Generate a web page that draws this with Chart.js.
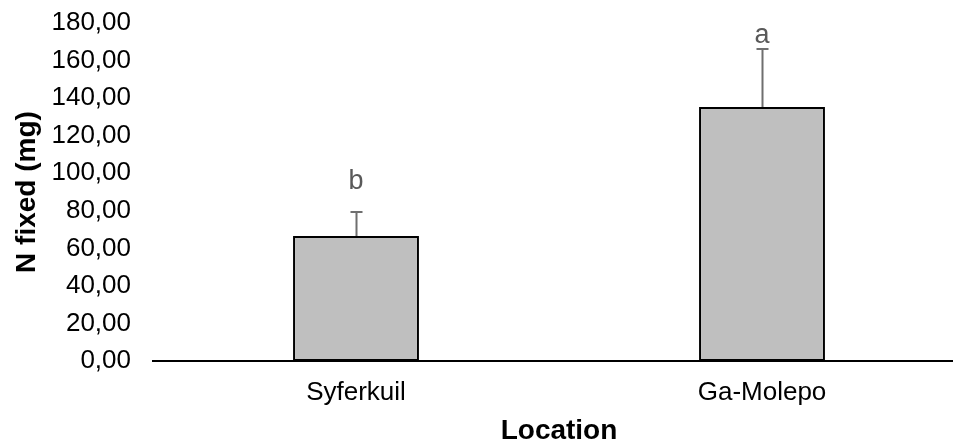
<!DOCTYPE html>
<html>
<head>
<meta charset="utf-8">
<script src="https://cdn.jsdelivr.net/npm/chart.js@4.4.0/dist/chart.umd.min.js"></script>
<style>
  html, body { margin: 0; padding: 0; background: #fff; overflow: hidden; }
  #wrap { width: 953px; height: 448px; overflow: hidden; }
</style>
</head>
<body>
<div id="wrap"><canvas id="chart" width="966" height="448"></canvas></div>
<script>
// ===== Data =====
const locations = ['Syferkuil', 'Ga-Molepo'];
const nFixed = [66.6, 135.3];
const errors = [12.8, 30.9];
const letters = ['b', 'a'];
const letterValues = [91.6, 169.3]; // baseline of the letters, in mg
const yTicks = [0, 20, 40, 60, 80, 100, 120, 140, 160, 180];

const FONT = '"Liberation Sans", Arial, sans-serif';

// ===== Error bars + letters =====
const errorBarPlugin = {
  id: 'errorBars',
  afterDatasetsDraw(chart) {
    const { ctx, scales } = chart;
    const x = scales.x, y = scales.y;
    ctx.save();
    ctx.strokeStyle = '#6f6f6f';
    ctx.lineWidth = 2;
    nFixed.forEach((v, i) => {
      const px = Math.round(x.getPixelForValue(i)) + 0.5;
      const top = y.getPixelForValue(v + errors[i]);
      const base = y.getPixelForValue(v);
      ctx.beginPath();
      ctx.moveTo(px, base);
      ctx.lineTo(px, top);
      ctx.moveTo(px - 6, top);
      ctx.lineTo(px + 6, top);
      ctx.stroke();
    });
    ctx.fillStyle = '#595959';
    ctx.font = '27px ' + FONT;
    ctx.textAlign = 'center';
    ctx.textBaseline = 'alphabetic';
    letters.forEach((l, i) => {
      ctx.fillText(l, x.getPixelForValue(i), y.getPixelForValue(letterValues[i]));
    });
    ctx.restore();
  },
};

new Chart(document.getElementById('chart'), {
  type: 'bar',
  data: {
    labels: locations,
    datasets: [{
      data: nFixed,
      backgroundColor: '#bfbfbf',
      borderColor: '#000000',
      borderWidth: 2,
      borderSkipped: false,
      barPercentage: 0.31,
      categoryPercentage: 1,
    }],
  },
  options: {
    responsive: false,
    animation: false,
    layout: { padding: { top: 23, right: 1, left: 0, bottom: 0 } },
    plugins: { legend: { display: false }, tooltip: { enabled: false } },
    scales: {
      x: {
        afterFit(scale) { scale.height = 87; },
        grid: { display: false, drawTicks: false },
        border: { display: true, color: '#000000', width: 2 },
        ticks: {
          color: '#000000',
          padding: 16,
          font: { family: FONT, size: 26 },
        },
        title: {
          display: true,
          text: 'Location',
          color: '#000000',
          padding: { top: 0, bottom: 0 },
          font: { family: FONT, size: 28, weight: 'bold' },
        },
      },
      y: {
        min: 0,
        max: 180,
        afterFit(scale) {
          scale.width = 153;
          scale.paddingTop = 0;
          scale.paddingBottom = 0;
        },
        afterBuildTicks(scale) { scale.ticks = yTicks.map((v) => ({ value: v })); },
        grid: { display: false, drawTicks: false },
        border: { display: false },
        ticks: {
          color: '#000000',
          padding: 22,
          font: { family: FONT, size: 26 },
          callback: (v) => Number(v).toFixed(2).replace('.', ','),
        },
        title: {
          display: true,
          text: 'N fixed (mg)',
          color: '#000000',
          padding: { top: 10, bottom: 0 },
          font: { family: FONT, size: 28, weight: 'bold' },
        },
      },
    },
  },
  plugins: [errorBarPlugin],
});
</script>
</body>
</html>
